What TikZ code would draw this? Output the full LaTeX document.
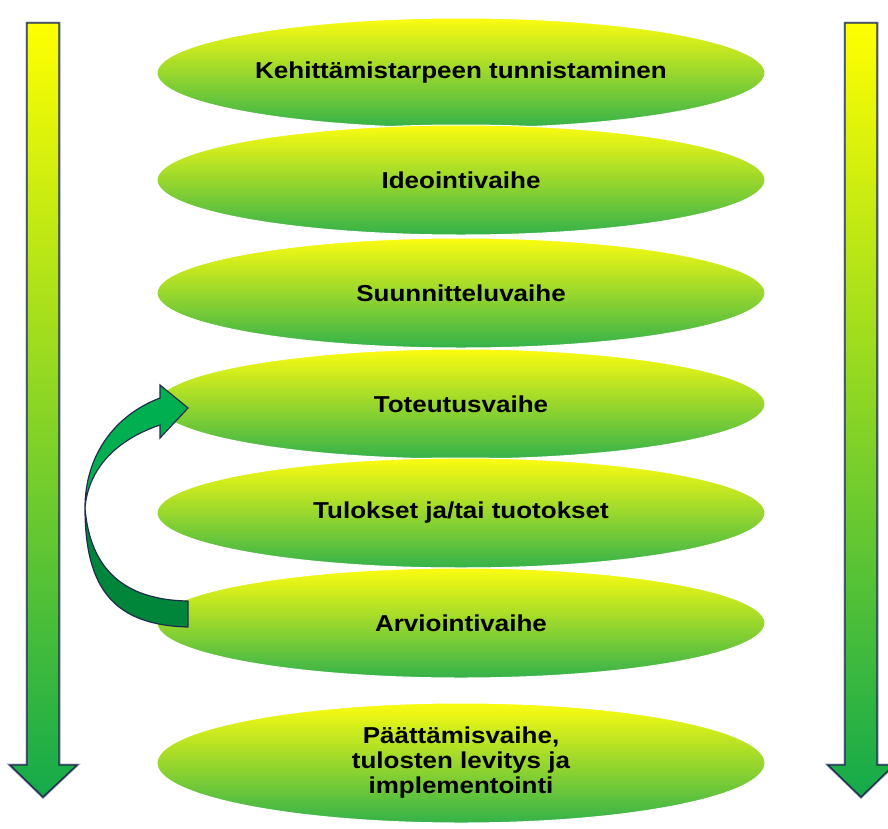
\documentclass[tikz,border=0pt]{standalone}
\usepackage{fontspec}
\setmainfont{Liberation Sans}[FakeStretch=1.13]
\usetikzlibrary{shapes.geometric}
\definecolor{ellyellow}{RGB}{252,252,16}
\definecolor{ellmid}{RGB}{196,224,52}
\definecolor{ellgreen}{RGB}{52,178,74}
\definecolor{arryellow}{RGB}{255,255,0}
\definecolor{arrmid}{RGB}{160,214,40}
\definecolor{arrgreen}{RGB}{20,170,74}
\definecolor{navy}{RGB}{30,44,78}
\definecolor{halo}{RGB}{150,160,185}
\definecolor{brightgreen}{RGB}{0,176,80}
\definecolor{darkgreen}{RGB}{0,134,58}
\tikzset{
  stage/.style={ellipse, minimum width=608pt, minimum height=110pt, inner sep=0pt,
    top color=ellyellow, middle color=ellmid, bottom color=ellgreen,
    draw=white, line width=1pt, align=center,
    font=\bfseries\fontsize{23}{25}\selectfont},
  sidearrow/.style={top color=arryellow, middle color=arrmid, bottom color=arrgreen,
    draw=navy, line width=1.4pt, line join=miter,
    preaction={draw=halo, line width=3pt}},
  backband/.style={fill=darkgreen, draw=navy, line width=1.2pt, line join=round},
  frontband/.style={fill=brightgreen, draw=navy, line width=1.2pt, line join=miter}
}
\begin{document}
\begin{tikzpicture}[x=1pt,y=-1pt]
\useasboundingbox (0,0) rectangle (888,828);
% side arrows
\path[sidearrow] (27,23) -- (59,23) -- (59,765) -- (77,765) -- (43,797) -- (10,765) -- (27,765) -- cycle;
\path[sidearrow] (845,23) -- (877,23) -- (877,765) -- (894,765) -- (861,797) -- (828,765) -- (845,765) -- cycle;
% stages
\node[stage] (s1) at (461,73) {Kehittämistarpeen tunnistaminen};
\node[stage] (s2) at (461,180) {Ideointivaihe};
\node[stage] (s3) at (461,293) {Suunnitteluvaihe};
\node[stage] (s4) at (461,404) {Toteutusvaihe};
\node[stage] (s5) at (461,513) {Tulokset ja/tai tuotokset};
\node[stage] (s6) at (461,623) {Arviointivaihe};
\node[stage, minimum height=120pt] (s7) at (461,763) {Päättämisvaihe,\\tulosten levitys ja\\implementointi};
% curved arrow from Arviointivaihe back to Toteutusvaihe
\coordinate (twist) at (85,508);
\path[backband] (twist) .. controls (85,590) and (115,625) .. (188,627) -- (188,601)
  .. controls (125,600) and (90,570) .. (twist) -- cycle;
\path[frontband] (twist) .. controls (88,470) and (115,440) .. (160,425) -- (160,438)
  -- (188,408) -- (160,385) -- (160,398) .. controls (115,415) and (85,455) .. (twist) -- cycle;
\end{tikzpicture}
\end{document}
